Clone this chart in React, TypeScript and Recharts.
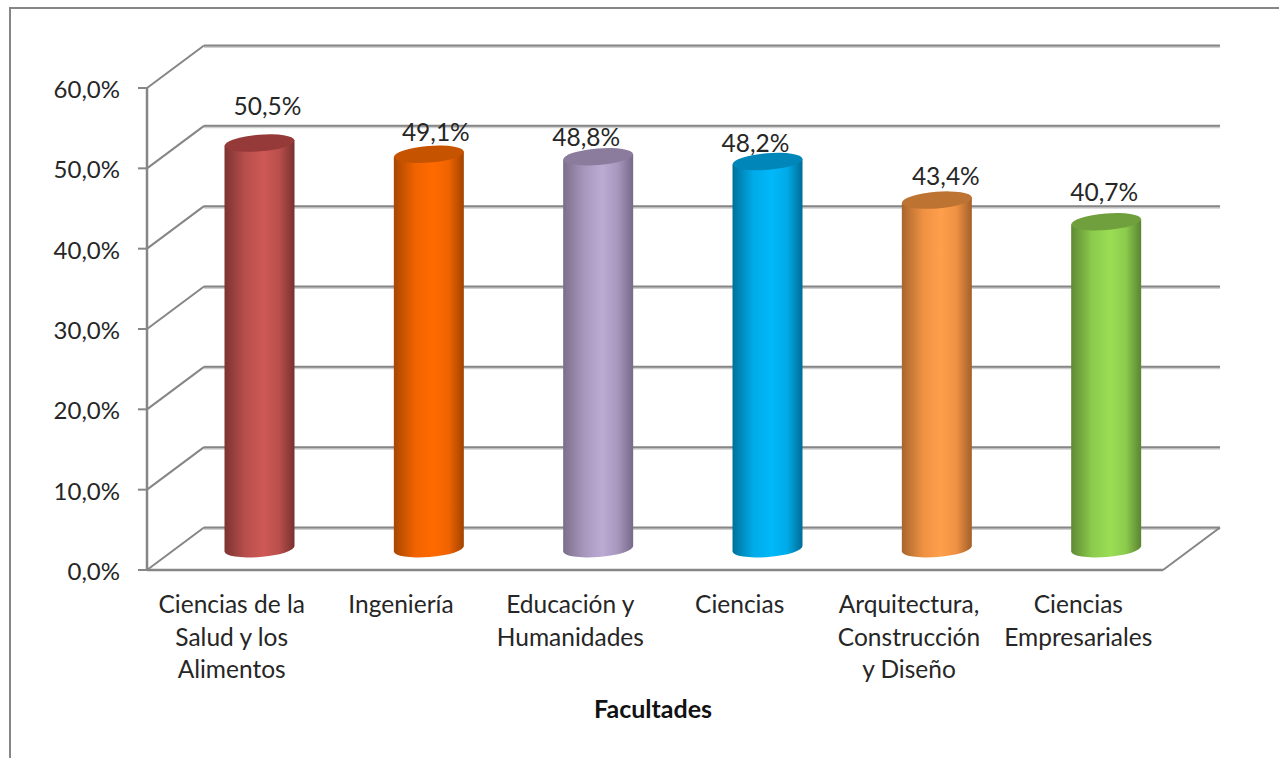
import { Bar, BarChart, CartesianGrid, LabelList, XAxis, YAxis } from 'recharts';

const categories = [
  'Ciencias de la\nSalud y los\nAlimentos',
  'Ingeniería',
  'Educación y\nHumanidades',
  'Ciencias',
  'Arquitectura,\nConstrucción\ny Diseño',
  'Ciencias\nEmpresariales',
];
const values = [50.5, 49.1, 48.8, 48.2, 43.4, 40.7];
const yTicks = [0, 10, 20, 30, 40, 50, 60];

const rows = categories.map((name, i) => ({ name, value: values[i] }));

// [edge, shoulder, highlight, far edge, cap]
const palette = [
  ['#7d3331', '#b84f4c', '#cf5855', '#7a302e', '#953a38'],
  ['#a84600', '#f06300', '#ff6a00', '#a24300', '#c65300'],
  ['#7b6e8a', '#a897bd', '#bbaad2', '#76698a', '#8b7c9e'],
  ['#00719c', '#00abe8', '#00b8fa', '#006c96', '#0086b8'],
  ['#a8652e', '#ee9142', '#ff9f4b', '#a35f2a', '#bd7332'],
  ['#5f8a35', '#8ccb4c', '#9ade55', '#5a8432', '#70a03d'],
];

const FONT = 'Lato, Carlito, sans-serif';
const GRID = '#868686';
const HALO = '#d0d0d0';
const DEPTH_X = 57;
const DEPTH_Y = 42.5;
const TILT = -4.6;

// the excel label placement is hand-nudged per bar, relative to the cap centre
const labelNudge = [
  [8, -38],
  [7, -23],
  [-12, -20],
  [-12, -19],
  [9, -25],
  [-2, -30],
];

function Cylinder({ x, y, width, height, index }: any) {
  const [edge, shoulder, light, farEdge, cap] = palette[index];
  const rx = width / 2;
  const ry = 8.3;
  const cx = x + rx + DEPTH_X / 2 - 1;
  const top = y - DEPTH_Y / 2;
  const base = y + height - DEPTH_Y / 2;
  const lift = Math.sin((TILT * Math.PI) / 180) * rx;
  const id = `cyl-${index}`;
  const side = [
    `M${cx - rx} ${top - lift}`,
    `L${cx - rx} ${base - lift}`,
    `A${rx} ${ry} ${TILT} 0 0 ${cx + rx} ${base + lift}`,
    `L${cx + rx} ${top + lift}`,
    'Z',
  ].join(' ');
  return (
    <g>
      <defs>
        <linearGradient id={id} x1="0" y1="0" x2="1" y2="0">
          <stop offset="0%" stopColor={edge} />
          <stop offset="30%" stopColor={shoulder} />
          <stop offset="56%" stopColor={light} />
          <stop offset="78%" stopColor={shoulder} />
          <stop offset="100%" stopColor={farEdge} />
        </linearGradient>
      </defs>
      <path d={side} fill={`url(#${id})`} />
      <ellipse cx={cx} cy={top} rx={rx} ry={ry} fill={cap} transform={`rotate(${TILT} ${cx} ${top})`} />
    </g>
  );
}

function GridLine({ x1, x2, y1, index }: any) {
  return (
    <g key={index} fill="none">
      <line x1={x1 + DEPTH_X} y1={y1 - DEPTH_Y + 1} x2={x2 + DEPTH_X} y2={y1 - DEPTH_Y + 1} stroke={HALO} strokeWidth={3} />
      <line x1={x1} y1={y1} x2={x1 + DEPTH_X} y2={y1 - DEPTH_Y} stroke={GRID} strokeWidth={2} />
      <line x1={x1 + DEPTH_X} y1={y1 - DEPTH_Y} x2={x2 + DEPTH_X} y2={y1 - DEPTH_Y} stroke={GRID} strokeWidth={2} />
    </g>
  );
}

function FloorEdge({ x2, y1 }: any) {
  return <line x1={x2} y1={y1} x2={x2 + DEPTH_X} y2={y1 - DEPTH_Y} stroke={GRID} strokeWidth={2} />;
}

function CategoryTick({ x, y, payload }: any) {
  return (
    <text x={x} y={y} textAnchor="middle" fontFamily={FONT} fontSize={24.5} fill="#262626">
      {String(payload.value)
        .split('\n')
        .map((line, i) => (
          <tspan key={i} x={x} y={y + 43 + i * 32.5}>
            {line}
          </tspan>
        ))}
    </text>
  );
}

function ValueLabel({ x, y, width, value, index }: any) {
  const [dx, dy] = labelNudge[index];
  return (
    <text
      x={x + width / 2 + DEPTH_X / 2 + dx - 1}
      y={y - DEPTH_Y / 2 + dy}
      textAnchor="middle"
      dominantBaseline="central"
      fontFamily={FONT}
      fontSize={24.5}
      fill="#262626"
    >
      {value.toFixed(1).replace('.', ',')}%
    </text>
  );
}

export default function App() {
  return (
    <div
      style={{
        position: 'absolute',
        top: 0,
        left: 0,
        width: 1279,
        height: 758,
        overflow: 'hidden',
        background: '#fff',
      }}
    >
      <div
        style={{
          position: 'absolute',
          top: 7,
          left: 9,
          width: 1400,
          height: 900,
          border: '2px solid #868686',
          boxShadow: '0 1px 0 #d0d0d0, 1px 0 0 #d0d0d0',
        }}
      />
      <BarChart
        width={1279}
        height={758}
        data={rows}
        margin={{ top: 88, right: 116, bottom: 0, left: 0 }}
        barSize={70}
        style={{ position: 'absolute', top: 0, left: 0 }}
      >
        <CartesianGrid
          vertical={false}
          horizontal={(props: any) => (
            <g key={props.index}>
              <GridLine {...props} />
              {props.y1 > 500 && <FloorEdge {...props} />}
            </g>
          )}
        />
        <XAxis
          dataKey="name"
          height={188}
          interval={0}
          tickLine={false}
          axisLine={{ stroke: GRID, strokeWidth: 2.5 }}
          tick={<CategoryTick />}
          tickMargin={0}
          tickSize={0}
          label={{
            value: 'Facultades',
            position: 'insideBottom',
            offset: 40,
            dx: -2,
            fontFamily: FONT,
            fontSize: 25,
            fontWeight: 700,
            fill: '#111',
          }}
        />
        <YAxis
          width={147}
          domain={[0, 60]}
          ticks={yTicks}
          tickSize={9}
          tickMargin={18}
          tickFormatter={(v: number) => `${v.toFixed(1).replace('.', ',')}%`}
          tickLine={{ stroke: GRID, strokeWidth: 2 }}
          axisLine={{ stroke: GRID, strokeWidth: 2.5 }}
          tick={{ fontFamily: FONT, fontSize: 24, fill: '#262626', dy: 1.5 }}
        />
        <Bar dataKey="value" shape={<Cylinder />} isAnimationActive={false}>
          <LabelList dataKey="value" content={<ValueLabel />} />
        </Bar>
      </BarChart>
    </div>
  );
}
